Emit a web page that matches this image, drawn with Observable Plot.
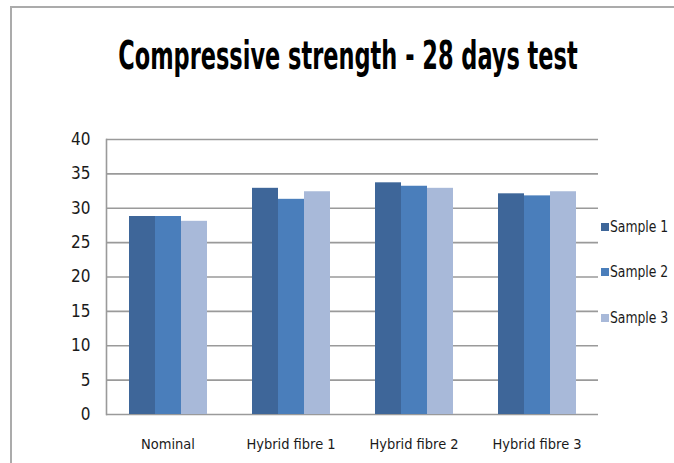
<!DOCTYPE html>
<html>
<head>
<meta charset="utf-8">
<script src="https://cdn.jsdelivr.net/npm/d3@7"></script>
<script src="https://cdn.jsdelivr.net/npm/@observablehq/plot@0.6"></script>
<style>
  html, body { margin: 0; padding: 0; background: #fff; }
  #wrap { position: relative; width: 674px; height: 463px; overflow: hidden;
          font-family: "DejaVu Sans Condensed", "Liberation Sans", sans-serif; }
  #border { position: absolute; left: 10px; top: 6px; right: -4px; bottom: -4px;
            border-left: 2px solid #ababab; border-top: 2px solid #ababab; }
  #title { position: absolute; left: 0; width: 696px; top: 33px; text-align: center;
           font-size: 32px; font-weight: bold; color: #000; transform: scale(0.78, 1.2); transform-origin: center top; white-space: nowrap; }
  #chart { position: absolute; left: 0; top: 0; }
  #legend { position: absolute; left: 601px; top: 0; font-size: 16px; color: #1a1a1a; }
  .item { position: absolute; left: 0; white-space: nowrap; display: flex; align-items: center; }
  .sw { width: 8px; height: 8px; margin-right: 1px; flex: none; }
  .lt { display: inline-block; transform: scaleX(0.86); transform-origin: left center; }
</style>
</head>
<body>
<div id="wrap">
  <div id="border"></div>
  <div id="chart"></div>
  <div id="title">Compressive strength - 28 days test</div>
  <div id="legend"></div>
</div>
<script>
const groups = ["Nominal", "Hybrid fibre 1", "Hybrid fibre 2", "Hybrid fibre 3"];
const series = ["Sample 1", "Sample 2", "Sample 3"];
const sample1 = [28.8, 32.9, 33.7, 32.1];
const sample2 = [28.8, 31.3, 33.2, 31.8];
const sample3 = [28.1, 32.4, 32.9, 32.4];
const yTicks = [0, 5, 10, 15, 20, 25, 30, 35, 40];
const colors = ["#3e6699", "#4a7ebb", "#a8b9d9"];

const seriesValues = [sample1, sample2, sample3];
const data = [];
groups.forEach((g, gi) => {
  series.forEach((s, si) => {
    data.push({group: g, series: s, value: seriesValues[si][gi]});
  });
});

const chart = Plot.plot({
  width: 674,
  height: 463,
  marginTop: 139,
  marginBottom: 49,
  marginLeft: 106,
  marginRight: 76,
  style: {fontFamily: '"DejaVu Sans Condensed", "Liberation Sans", sans-serif', color: "#1a1a1a", background: "transparent"},
  fx: {domain: groups, padding: 0},
  x: {domain: series, paddingInner: 0, paddingOuter: 0.78, axis: null},
  y: {domain: [0, 40]},
  color: {domain: series, range: colors},
  marks: [
    Plot.ruleY(yTicks, {stroke: "#9a9a9a", strokeWidth: 1.6}),
    Plot.frame({anchor: "left", facetAnchor: "left", stroke: "#9a9a9a", strokeWidth: 1.6}),
    Plot.barY(data, {fx: "group", x: "series", y: "value", fill: "series"}),
    Plot.axisY({ticks: yTicks, tickSize: 0, tickPadding: 16, fontSize: 17, label: null}),
    Plot.axisFx({anchor: "bottom", tickSize: 0, tickPadding: 24, fontSize: 14.5, label: null})
  ]
});
document.getElementById("chart").appendChild(chart);

const legend = document.getElementById("legend");
const legendTops = [217, 262, 308];
series.forEach((s, i) => {
  const item = document.createElement("div");
  item.className = "item";
  item.style.top = legendTops[i] + "px";
  const sw = document.createElement("span");
  sw.className = "sw";
  sw.style.background = colors[i];
  const t = document.createElement("span");
  t.className = "lt";
  t.textContent = s;
  item.appendChild(sw);
  item.appendChild(t);
  legend.appendChild(item);
});
</script>
</body>
</html>
